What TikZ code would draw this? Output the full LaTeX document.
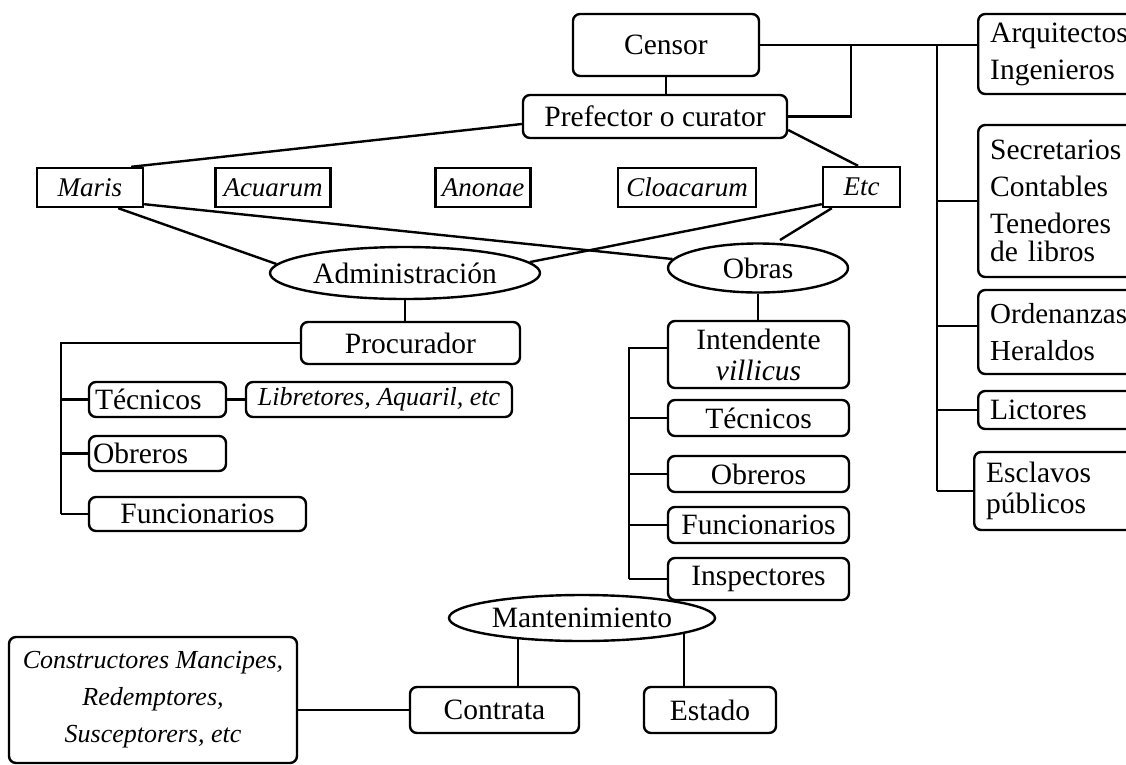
\documentclass[tikz,border=0pt]{standalone}
\usepackage{fontspec}
\setmainfont{Liberation Serif}
\usetikzlibrary{shapes.geometric}
\begin{document}
\begin{tikzpicture}[x=1pt,y=-1pt,
  every node/.style={font=\fontsize{29.5}{37}\selectfont, inner sep=0pt},
  rbox/.style={draw, line width=2.4pt, rounded corners=7pt, align=center},
  sbox/.style={draw, line width=2.4pt, align=center, font=\fontsize{27}{34}\selectfont\itshape},
  lbox/.style={draw, line width=2.4pt, rounded corners=7pt, anchor=west, align=left,
               text width=150pt, inner xsep=12pt},
  oval/.style={draw, line width=2.4pt, ellipse, inner sep=0pt},
  conn/.style={line width=2.4pt}]
\useasboundingbox (0,0) rectangle (1126,764);
\clip (0,0) rectangle (1126,764);

% top of the hierarchy
\node[rbox, minimum width=186pt, minimum height=62pt] (cen) at (666,45) {Censor};
\node[rbox, minimum width=264pt, minimum height=43pt] (pre) at (655,116.5) {Prefector o curator};

% staff column on the right
\node[lbox, minimum height=80pt] (arq) at (977,54) {Arquitectos\\Ingenieros};
\node[lbox, minimum height=152pt] (sec) at (977,201) {Secretarios\\Contables\\Tenedores\\[-9pt]de libros};
\node[lbox, minimum height=84pt, font=\fontsize{29}{37}\selectfont] (ord) at (977,332) {Ordenanzas\\Heraldos};
\node[lbox, minimum height=38pt] (lic) at (977,410) {Lictores};
\node[lbox, minimum height=78pt, font=\fontsize{29.5}{31}\selectfont] (esc) at (973,491) {Esclavos\\públicos};

% kinds of curatores
\node[sbox, minimum width=106pt, minimum height=39pt] (mar) at (90,187.5) {Maris};
\node[sbox, minimum width=115pt, minimum height=39pt] (acu) at (273,187.5) {Acuarum};
\node[sbox, minimum width=95pt, minimum height=39pt] (ano) at (483,187.5) {Anonae};
\node[sbox, minimum width=138pt, minimum height=39pt] (clo) at (687,187.5) {Cloacarum};
\node[sbox, minimum width=77pt, minimum height=40pt] (etc) at (861.5,187) {Etc};

% two branches
\node[oval, minimum width=270pt, minimum height=52pt] (adm) at (405,273) {Administración};
\node[oval, minimum width=180pt, minimum height=49pt] (obr) at (758,268) {Obras};

% administration branch
\node[rbox, minimum width=219pt, minimum height=42pt] (pro) at (410.5,343) {Procurador};
\node[rbox, minimum width=137pt, minimum height=35pt, align=left, text width=125pt] (tec1) at (157.5,399.5) {Técnicos};
\node[rbox, minimum width=266pt, minimum height=35pt, font=\fontsize{26}{32}\selectfont\itshape] (lib) at (379,399.5) {Libretores, Aquaril, etc};
\node[rbox, minimum width=137pt, minimum height=35pt, align=left, text width=129pt] (obe1) at (157.5,453.5) {Obreros};
\node[rbox, minimum width=217pt, minimum height=34pt] (fun1) at (197.5,514) {Funcionarios};

% works branch
\node[rbox, minimum width=181pt, minimum height=67pt, font=\fontsize{29.5}{31}\selectfont] (int) at (758.5,354.5) {Intendente\\\textit{villicus}};
\node[rbox, minimum width=181pt, minimum height=36pt] (tec2) at (758.5,418) {Técnicos};
\node[rbox, minimum width=181pt, minimum height=36pt] (obe2) at (758.5,474) {Obreros};
\node[rbox, minimum width=181pt, minimum height=36pt] (fun2) at (758.5,525) {Funcionarios};
\node[rbox, minimum width=181pt, minimum height=42pt] (ins) at (758.5,579) {Inspectores};

% maintenance
\node[oval, minimum width=266pt, minimum height=46pt] (man) at (582,618) {Mantenimiento};
\node[rbox, minimum width=169pt, minimum height=46pt] (con) at (494.5,710) {Contrata};
\node[rbox, minimum width=132pt, minimum height=46pt] (est) at (710,710) {Estado};
\node[rbox, minimum width=288pt, minimum height=126pt, font=\fontsize{26}{37}\selectfont\itshape] (cst) at (153,700) {Constructores Mancipes,\\Redemptores,\\Susceptorers, etc};

% connectors of the top levels
\coordinate (jn) at (851,45);
\coordinate (sp) at (937,45);
\coordinate (etcend) at (780,240);
\draw[conn] (cen.south) -- (cen.south |- pre.north);
\draw[conn] (cen.east) -- (cen.east -| arq.west);
\draw[conn] (pre.east) -| (jn);
\draw[conn] (sp) -- (sp |- esc.west);
\draw[conn] (sp |- sec.west) -- (sec.west);
\draw[conn] (sp |- ord.west) ++(0,-6) coordinate (ob) -- (ob -| ord.west);
\draw[conn] (sp |- lic.west) -- (lic.west);
\draw[conn] (sp |- esc.west) -- (esc.west);

\draw[conn] ([yshift=-7.5pt]pre.west) -- ([xshift=-13pt]mar.north east);
\draw[conn] ([yshift=-13.5pt]pre.east) -- ([xshift=-3.5pt]etc.north);
\draw[conn] ([xshift=-26pt]mar.south east) -- (adm.176);
\draw[conn] ([yshift=4pt]mar.south east) -- (obr.174);
\draw[conn] ([yshift=4pt]etc.south west) -- (adm.5);
\draw[conn] ([xshift=10pt]etc.south west) -- (etcend);

% administration tree
\coordinate (sl) at (61,343);
\draw[conn] (adm.south) -- (adm.south |- pro.north);
\draw[conn] (pro.west) -- (sl) -- (sl |- fun1.west);
\draw[conn] (sl |- tec1.west) -- (tec1.west);
\draw[conn] (sl |- obe1.west) -- (obe1.west);
\draw[conn] (sl |- fun1.west) -- (fun1.west);
\draw[conn] (tec1.east) -- (lib.west);

% works tree
\coordinate (sr) at (629,348);
\draw[conn] (obr.south) -- (obr.south |- int.north);
\draw[conn] (int.west |- sr) -- (sr) -- (sr |- ins.west);
\draw[conn] (sr |- tec2.west) -- (tec2.west);
\draw[conn] (sr |- obe2.west) -- (obe2.west);
\draw[conn] (sr |- fun2.west) -- (fun2.west);
\draw[conn] (sr |- ins.west) -- (ins.west);

% maintenance tree
\coordinate (mc) at (518,638);
\coordinate (me) at (684,634);
\draw[conn] (mc) -- (mc |- con.north);
\draw[conn] (me) -- (me |- est.north);
\draw[conn] (con.west) -- (cst.east |- con.west);
\end{tikzpicture}
\end{document}
